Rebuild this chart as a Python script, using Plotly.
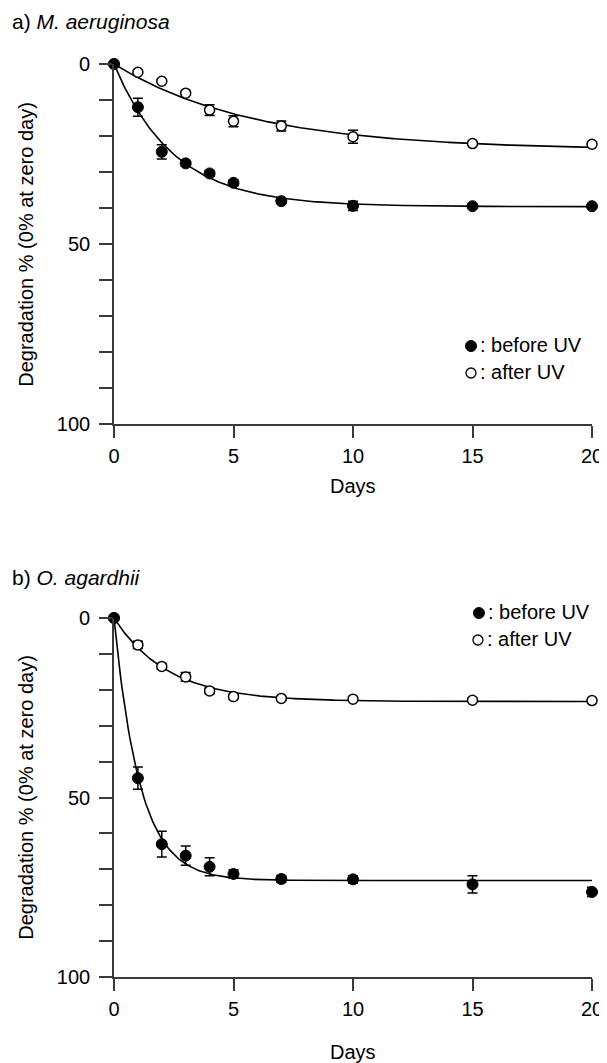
import numpy as np
import plotly.graph_objects as go
from plotly.subplots import make_subplots

# ---------------- data ----------------
days = [0, 1, 2, 3, 4, 5, 7, 10, 15, 20]

# a) M. aeruginosa
a_before = [0, 12.0, 24.4, 27.6, 30.4, 33.0, 38.1, 39.4, 39.5, 39.5]
a_before_err = [0, 2.5, 2.0, 0.8, 0.8, 0.8, 0.6, 1.3, 0.5, 0.5]
a_after = [0, 2.3, 4.8, 8.1, 12.8, 15.9, 17.2, 20.2, 22.1, 22.3]
a_after_err = [0, 0.4, 0.4, 0.5, 1.5, 1.5, 1.4, 1.8, 0.5, 0.5]

# b) O. agardhii
b_before = [0, 44.6, 63.0, 66.2, 69.3, 71.3, 72.7, 72.8, 74.2, 76.3]
b_before_err = [0, 3.1, 3.6, 2.7, 2.5, 1.2, 1.0, 1.0, 2.4, 1.3]
b_after = [0, 7.5, 13.5, 16.4, 20.3, 21.9, 22.4, 22.6, 22.9, 23.0]
b_after_err = [0, 1.0, 0.8, 1.2, 0.8, 0.6, 0.5, 0.5, 0.5, 0.5]

x_ticks = [0, 5, 10, 15, 20]
y_ticks = list(range(0, 101, 10))
y_ticktext = ["0", "", "", "", "", "50", "", "", "", "", "100"]

FONT = "Liberation Sans, Arial, sans-serif"
AX = "#3a3a3a"


def fit_curve(t, y):
    """least-squares fit of y = A(1-exp(-k t)) to the plotted points"""
    t = np.asarray(t, float)
    y = np.asarray(y, float)
    best = None
    for k in np.linspace(0.01, 3.0, 3000):
        f = 1 - np.exp(-k * t)
        A = (f @ y) / (f @ f)
        sse = ((A * f - y) ** 2).sum()
        if best is None or sse < best[0]:
            best = (sse, A, k)
    _, A, k = best
    tt = np.linspace(0, 20, 301)
    return tt, A * (1 - np.exp(-k * tt))


fig = make_subplots(rows=2, cols=1, vertical_spacing=0.0)

series = [
    (1, a_before, a_before_err, a_after, a_after_err),
    (2, b_before, b_before_err, b_after, b_after_err),
]
for row, yb, eb, ya, ea in series:
    for y in (yb, ya):
        tt, yy = fit_curve(days, y)
        fig.add_trace(go.Scatter(x=tt, y=yy, mode="lines",
                                 line=dict(color="black", width=1.6),
                                 showlegend=False, hoverinfo="skip",
                                 cliponaxis=False), row=row, col=1)
    fig.add_trace(go.Scatter(
        x=days, y=ya, mode="markers",
        marker=dict(symbol="circle", size=10, color="white",
                    line=dict(color="black", width=1.5)),
        error_y=dict(type="data", array=ea, color="black", thickness=1.5, width=5),
        showlegend=False, cliponaxis=False), row=row, col=1)
    fig.add_trace(go.Scatter(
        x=days, y=yb, mode="markers",
        marker=dict(symbol="circle", size=11, color="black",
                    line=dict(color="black", width=1)),
        error_y=dict(type="data", array=eb, color="black", thickness=1.5, width=5),
        showlegend=False, cliponaxis=False), row=row, col=1)

# page body has an 8px margin: figure pixel = screen pixel - 8
OFF = 8
# screen targets: a) y 64..424, b) y 618..977 ; x 114..596
W, H = 607, 1063 - OFF
ml = 114 - OFF
mt = 64 - OFF
mr = W - (596 - OFF)
mb = H - (977 - OFF)
ph = H - mt - mb
pw = W - ml - mr


def py(p):  # screen y -> paper
    return (H - mb - (p - OFF)) / ph


def px(p):  # screen x -> paper
    return ((p - OFF) - ml) / pw


fig.update_layout(
    width=W, height=H,
    margin=dict(l=ml, r=mr, t=mt, b=mb, pad=0),
    paper_bgcolor="white", plot_bgcolor="white",
    font=dict(family=FONT, size=20, color="black"),
    showlegend=False,
    yaxis=dict(domain=[py(424), 1.0]),
    yaxis2=dict(domain=[0.0, py(618)]),
)

for r in (1, 2):
    fig.update_xaxes(range=[0, 20], tickvals=x_ticks, showgrid=False, zeroline=False,
                     showline=True, linecolor=AX, linewidth=1.6,
                     ticks="outside", ticklen=12, tickwidth=1.6, tickcolor=AX,
                     ticklabelstandoff=1, ticklabeloverflow="allow",
                     tickfont=dict(family=FONT, size=20, color="black"),
                     row=r, col=1)
    fig.update_yaxes(range=[100, 0], tickvals=y_ticks, ticktext=y_ticktext,
                     showgrid=False, zeroline=False,
                     showline=True, linecolor=AX, linewidth=1.6,
                     ticks="outside", ticklen=13, tickwidth=1.6, tickcolor=AX,
                     ticklabelstandoff=5, ticklabeloverflow="allow",
                     tickfont=dict(family=FONT, size=20, color="black"),
                     row=r, col=1)

ann = []
# panel titles
ann.append(dict(text="a) <i>M. aeruginosa</i>", x=px(9), y=py(21), xref="paper", yref="paper",
                xanchor="left", yanchor="middle", showarrow=False, font=dict(size=21)))
ann.append(dict(text="b) <i>O. agardhii</i>", x=px(9), y=py(577), xref="paper", yref="paper",
                xanchor="left", yanchor="middle", showarrow=False, font=dict(size=21)))
# y titles
for cy in (244, 797):
    ann.append(dict(text="Degradation % (0% at zero day)", x=px(25), y=py(cy),
                    xref="paper", yref="paper", textangle=-90,
                    xanchor="center", yanchor="middle", showarrow=False, font=dict(size=20)))
# x titles
for cy in (486, 1052):
    ann.append(dict(text="Days", x=0.5, y=py(cy), xref="paper", yref="paper",
                    xanchor="center", yanchor="middle", showarrow=False, font=dict(size=20)))

# legends
shapes = []
legend_pos = [((474, 346), (474, 373)), ((482, 613), (481, 640))]
for (bx, by), (ax_, ay) in legend_pos:
    shapes.append(dict(type="circle", xref="paper", yref="paper",
                       xsizemode="pixel", ysizemode="pixel",
                       xanchor=px(bx), yanchor=py(by),
                       x0=-5.5, x1=5.5, y0=-5.5, y1=5.5,
                       fillcolor="black", line=dict(color="black", width=1)))
    shapes.append(dict(type="circle", xref="paper", yref="paper",
                       xsizemode="pixel", ysizemode="pixel",
                       xanchor=px(ax_), yanchor=py(ay),
                       x0=-5, x1=5, y0=-5, y1=5,
                       fillcolor="white", line=dict(color="black", width=1.3)))
    ann.append(dict(text=": before UV", x=px(bx + 7), y=py(by - 1), xref="paper", yref="paper",
                    xanchor="left", yanchor="middle", showarrow=False, font=dict(size=20)))
    ann.append(dict(text=": after UV", x=px(ax_ + 7), y=py(ay - 1), xref="paper", yref="paper",
                    xanchor="left", yanchor="middle", showarrow=False, font=dict(size=20)))

fig.update_layout(annotations=ann, shapes=shapes)
fig.write_html("out.html")
